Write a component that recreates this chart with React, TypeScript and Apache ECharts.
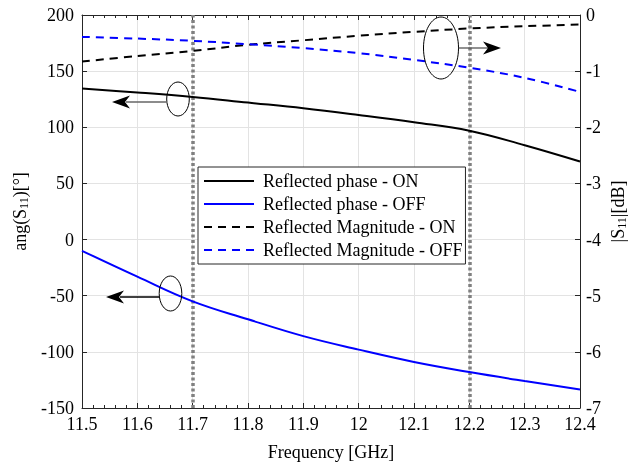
import React, { useEffect, useRef } from "react";
import * as echarts from "echarts";

const freq = [11.5, 11.6, 11.7, 11.8, 11.9, 12.0, 12.1, 12.2, 12.3, 12.4];
const phaseOn = [134.5, 131, 127, 122, 117, 111, 104.5, 97, 84, 69.5];
const phaseOff = [-10, -33, -55, -71, -86, -98, -109, -118, -126, -133.5];
const magOn = [-0.83, -0.73, -0.64, -0.53, -0.45, -0.37, -0.3, -0.24, -0.2, -0.17];
const magOff = [-0.39, -0.42, -0.46, -0.52, -0.59, -0.68, -0.8, -0.94, -1.12, -1.37];
const markerFreqs = [11.7, 12.2];
const seriesNames = [
  "Reflected phase - ON",
  "Reflected phase - OFF",
  "Reflected Magnitude - ON",
  "Reflected Magnitude - OFF",
];

const FONT = "'Liberation Serif', 'Times New Roman', serif";

export default function App() {
  const ref = useRef<HTMLDivElement>(null);
  useEffect(() => {
    if (!ref.current) return;
    const chart = echarts.init(ref.current, undefined, { renderer: "svg" });
    const axisColor = "#262626";
    const pair = (ys: number[]) => freq.map((f, i) => [f, ys[i]]);
    const arrowLeft = (tipX: number, y: number, backX: number, color = "#000") => [
      {
        type: "polygon",
        shape: {
          points: [
            [tipX, y],
            [tipX + 18, y - 6.5],
            [tipX + 13, y],
            [tipX + 18, y + 6.5],
          ],
        },
        style: { fill: "#000" },
        z: 10,
      },
      {
        type: "line",
        shape: { x1: tipX + 14, y1: y, x2: backX, y2: y },
        style: { stroke: color, lineWidth: 1.3 },
        z: 10,
      },
    ];
    const sub = { fontFamily: FONT, fontSize: 12, verticalAlign: "bottom", padding: [8, 0, 0, 0] };
    chart.setOption({
      animation: false,
      textStyle: { fontFamily: FONT, color: "#000" },
      grid: {
        left: 82,
        right: 48,
        top: 15,
        bottom: 57,
        containLabel: false,
        outerBoundsMode: "none",
      },
      legend: {
        orient: "vertical",
        left: 198,
        top: 167,
        padding: [5, 3, 5, 5],
        itemWidth: 50,
        itemHeight: 12,
        itemGap: 5,
        backgroundColor: "#fff",
        borderColor: "#262626",
        borderWidth: 1,
        itemStyle: { opacity: 0 },
        textStyle: { fontFamily: FONT, fontSize: 18, color: "#000", padding: [0, 0, 0, 4] },
        data: seriesNames,
      },
      xAxis: [
        {
          type: "value",
          min: 11.5,
          max: 12.4,
          interval: 0.1,
          name: "Frequency [GHz]",
          nameLocation: "middle",
          nameGap: 35,
          nameTextStyle: { fontFamily: FONT, fontSize: 18, color: "#000" },
          axisLine: { show: true, onZero: false, lineStyle: { color: axisColor, width: 1 } },
          axisTick: { show: true, inside: true, length: 5, lineStyle: { color: axisColor } },
          minorTick: { show: true, splitNumber: 5, length: 3, lineStyle: { color: axisColor } },
          axisLabel: {
            margin: 7,
            fontFamily: FONT,
            fontSize: 18,
            color: "#000",
            formatter: (v: number) => String(+v.toFixed(1)),
          },
          splitLine: { show: true, lineStyle: { color: "#e3e3e3", width: 1 } },
        },
        {
          type: "value",
          position: "top",
          min: 11.5,
          max: 12.4,
          interval: 0.1,
          axisLine: { show: true, onZero: false, lineStyle: { color: axisColor, width: 1 } },
          axisTick: { show: true, inside: true, length: 5, lineStyle: { color: axisColor } },
          minorTick: { show: true, splitNumber: 5, length: 3, lineStyle: { color: axisColor } },
          axisLabel: { show: false },
          splitLine: { show: false },
        },
      ],
      yAxis: [
        {
          type: "value",
          min: -150,
          max: 200,
          interval: 50,
          name: "ang(S{sub|11})[°]",
          nameLocation: "middle",
          nameRotate: 90,
          nameGap: 50,
          nameTextStyle: { fontFamily: FONT, fontSize: 18, color: "#000", rich: { sub } },
          axisLine: { show: true, onZero: false, lineStyle: { color: axisColor, width: 1 } },
          axisTick: { show: true, inside: true, length: 5, lineStyle: { color: axisColor } },
          axisLabel: { margin: 8, fontFamily: FONT, fontSize: 18, color: "#000" },
          splitLine: { show: true, lineStyle: { color: "#e3e3e3", width: 1 } },
        },
        {
          type: "value",
          min: -7,
          max: 0,
          interval: 1,
          position: "right",
          name: "|S{sub|11}|[dB]",
          nameLocation: "middle",
          nameRotate: 90,
          nameGap: 28,
          nameMoveOverlap: false,
          nameTextStyle: { fontFamily: FONT, fontSize: 18, color: "#000", rich: { sub } },
          axisLine: { show: true, onZero: false, lineStyle: { color: axisColor, width: 1 } },
          axisTick: { show: true, inside: true, length: 5, lineStyle: { color: axisColor } },
          axisLabel: { margin: 6, fontFamily: FONT, fontSize: 18, color: "#000" },
          splitLine: { show: false },
        },
      ],
      series: [
        {
          name: seriesNames[0],
          type: "line",
          yAxisIndex: 0,
          data: pair(phaseOn),
          smooth: 0.4,
          symbol: "none",
          lineStyle: { color: "#000", width: 2 },
          itemStyle: { color: "#000" },
          z: 3,
          markLine: {
            silent: true,
            symbol: "none",
            label: { show: false },
            lineStyle: { color: "#808080", width: 3.5, type: [3, 2.5] },
            data: markerFreqs.map((f) => ({ xAxis: f })),
            z: 1,
          },
        },
        {
          name: seriesNames[1],
          type: "line",
          yAxisIndex: 0,
          data: pair(phaseOff),
          smooth: 0.4,
          symbol: "none",
          lineStyle: { color: "#0000ff", width: 2 },
          itemStyle: { color: "#0000ff" },
          z: 3,
        },
        {
          name: seriesNames[2],
          type: "line",
          yAxisIndex: 1,
          data: pair(magOn),
          smooth: 0.4,
          symbol: "none",
          lineStyle: { color: "#000", width: 2, type: [8, 6] },
          itemStyle: { color: "#000" },
          z: 3,
        },
        {
          name: seriesNames[3],
          type: "line",
          yAxisIndex: 1,
          data: pair(magOff),
          smooth: 0.4,
          symbol: "none",
          lineStyle: { color: "#0000ff", width: 2, type: [8, 6] },
          itemStyle: { color: "#0000ff" },
          z: 3,
        },
      ],
      graphic: [
        {
          type: "ellipse",
          shape: { cx: 178, cy: 99, rx: 11.3, ry: 17 },
          style: { fill: "none", stroke: "#000", lineWidth: 1 },
          z: 10,
        },
        ...arrowLeft(112, 102, 167, "#666"),
        {
          type: "ellipse",
          shape: { cx: 170.5, cy: 293.5, rx: 11.3, ry: 17.5 },
          style: { fill: "none", stroke: "#000", lineWidth: 1 },
          z: 10,
        },
        ...arrowLeft(106, 297, 159, "#000"),
        {
          type: "ellipse",
          shape: { cx: 441, cy: 48, rx: 17.5, ry: 31 },
          style: { fill: "none", stroke: "#000", lineWidth: 1 },
          z: 10,
        },
        {
          type: "line",
          shape: { x1: 458.5, y1: 48, x2: 489, y2: 48 },
          style: { stroke: "#555", lineWidth: 1.3 },
          z: 10,
        },
        {
          type: "polygon",
          shape: {
            points: [
              [501, 48],
              [483, 41.5],
              [488, 48],
              [483, 54.5],
            ],
          },
          style: { fill: "#000" },
          z: 10,
        },
      ],
    });
    return () => chart.dispose();
  }, []);
  return (
    <div
      ref={ref}
      style={{ position: "fixed", left: 0, top: 0, width: 628, height: 465 }}
    />
  );
}
